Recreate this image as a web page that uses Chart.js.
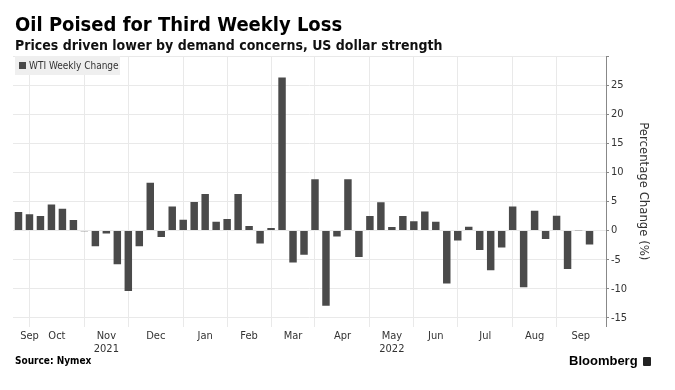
<!DOCTYPE html>
<html>
<head>
<meta charset="utf-8">
<script src="https://cdn.jsdelivr.net/npm/chart.js@4.4.0/dist/chart.umd.min.js"></script>
<style>
  body { margin: 0; background: #fff; }
  #wrap { position: relative; width: 675px; height: 390px; overflow: hidden; font-family: 'DejaVu Sans Condensed', 'DejaVu Sans', sans-serif; }
  #chart { position: absolute; left: 0; top: 0; }
  .title { position: absolute; left: 15px; top: 12px; font-weight: bold; font-size: 20px; color: #000; white-space: nowrap; }
  .subtitle { position: absolute; left: 15px; top: 37px; font-weight: bold; font-size: 14px; color: #111; white-space: nowrap; }
  .source { position: absolute; left: 15px; top: 355px; font-weight: bold; font-size: 10px; color: #000; }
  .brand { position: absolute; left: 569px; top: 353px; font-family: 'Liberation Sans', Arial, sans-serif; font-weight: bold; font-size: 13px; color: #000; }
  .brand span { display: inline-block; width: 8px; height: 9px; background: #222; border-radius: 1px; margin-left: 5px; vertical-align: -1px; }
</style>
</head>
<body>
<div id="wrap">
  <canvas id="chart" width="675" height="390"></canvas>
  <div class="title">Oil Poised for Third Weekly Loss</div>
  <div class="subtitle">Prices driven lower by demand concerns, US dollar strength</div>
  <div class="source">Source: Nymex</div>
  <div class="brand">Bloomberg<span></span></div>
</div>
<script>
// weekly closes, Friday dates (last slot is empty room before the axis)
const weekLabels = [
  '2021-09-17', '2021-09-24', '2021-10-01', '2021-10-08', '2021-10-15', '2021-10-22', '2021-10-29',
  '2021-11-05', '2021-11-12', '2021-11-19', '2021-11-26', '2021-12-03', '2021-12-10', '2021-12-17',
  '2021-12-24', '2021-12-31', '2022-01-07', '2022-01-14', '2022-01-21', '2022-01-28', '2022-02-04',
  '2022-02-11', '2022-02-18', '2022-02-25', '2022-03-04', '2022-03-11', '2022-03-18', '2022-03-25',
  '2022-04-01', '2022-04-08', '2022-04-15', '2022-04-22', '2022-04-29', '2022-05-06', '2022-05-13',
  '2022-05-20', '2022-05-27', '2022-06-03', '2022-06-10', '2022-06-17', '2022-06-24', '2022-07-01',
  '2022-07-08', '2022-07-15', '2022-07-22', '2022-07-29', '2022-08-05', '2022-08-12', '2022-08-19',
  '2022-08-26', '2022-09-02', '2022-09-09', '2022-09-16', '2022-09-23'
];

const wtiChange = [
  3.2, 2.8, 2.5, 4.5, 3.75, 1.8, -0.1,
  -2.7, -0.5, -5.8, -10.4, -2.7, 8.2, -1.1,
  4.15, 1.85, 4.9, 6.3, 1.5, 2.0, 6.3,
  0.8, -2.2, 0.46, 26.3, -5.5, -4.15, 8.8,
  -12.9, -1.0, 8.8, -4.55, 2.5, 4.85, 0.6,
  2.5, 1.6, 3.3, 1.5, -9.1, -1.7, 0.65,
  -3.35, -6.8, -2.9, 4.15, -9.75, 3.4, -1.45,
  2.55, -6.6, -0.05, -2.4, null
];

// month labels sit mid-month, gridlines on the last week of each month
const monthTickPos = [1, 3.5, 8, 12.5, 17, 21, 25, 29.5, 34, 38, 42.5, 47, 51.2];
const monthTickText = [['Sep'], ['Oct'], ['Nov', '2021'], ['Dec'], ['Jan'], ['Feb'], ['Mar'],
  ['Apr'], ['May', '2022'], ['Jun'], ['Jul'], ['Aug'], ['Sep']];
const monthEndIdx = [1, 6, 10, 15, 19, 23, 27, 32, 36, 40, 45, 49];

const yTicks = [-15, -10, -5, 0, 5, 10, 15, 20, 25, 30];
const yMin = -16.5, yMax = 30;

const FONT = "'DejaVu Sans Condensed', 'DejaVu Sans', sans-serif";
const BAR = '#4a4a4a';

const legendBox = {
  id: 'legendBox',
  afterDraw(chart) {
    const ctx = chart.ctx;
    ctx.save();
    ctx.fillStyle = '#efefef';
    ctx.fillRect(15, 56, 105, 19);
    ctx.fillStyle = BAR;
    ctx.fillRect(19, 62, 7, 7);
    ctx.fillStyle = '#333';
    ctx.font = '10px ' + FONT;
    ctx.textBaseline = 'middle';
    ctx.fillText(chart.data.datasets[0].label, 29, 66);
    ctx.restore();
  }
};

Chart.defaults.font.family = FONT;
Chart.defaults.color = '#333';

new Chart(document.getElementById('chart'), {
  type: 'bar',
  data: {
    labels: weekLabels,
    datasets: [{
      label: 'WTI Weekly Change',
      data: wtiChange,
      backgroundColor: BAR,
      borderWidth: 0,
      barPercentage: 0.68,
      categoryPercentage: 1.0,
      xAxisID: 'x',
      yAxisID: 'y'
    }]
  },
  options: {
    responsive: false,
    animation: false,
    layout: { padding: { top: 56, left: 13, right: 24, bottom: 31 } },
    plugins: {
      legend: { display: false },
      tooltip: { enabled: false }
    },
    scales: {
      x: { type: 'category', display: false },
      xm: {
        type: 'linear',
        position: 'bottom',
        offset: false,
        min: -0.5,
        max: weekLabels.length - 0.5,
        afterBuildTicks: (scale) => {
          const vals = [...new Set([...monthEndIdx, ...monthTickPos])].sort((a, b) => a - b);
          scale.ticks = vals.map(v => ({ value: v }));
        },
        ticks: {
          autoSkip: false,
          maxRotation: 0,
          padding: 3,
          font: { size: 11 },
          color: '#333',
          callback: (value) => {
            const i = monthTickPos.indexOf(value);
            return i >= 0 ? monthTickText[i] : '';
          }
        },
        grid: {
          offset: false,
          drawTicks: false,
          color: (ctx) => (ctx.tick && monthEndIdx.includes(ctx.tick.value)) ? '#e9e9e9' : 'rgba(0,0,0,0)',
          lineWidth: 1
        },
        border: { display: false }
      },
      y: {
        position: 'right',
        min: yMin,
        max: yMax,
        afterBuildTicks: (scale) => { scale.ticks = yTicks.map(v => ({ value: v })); },
        afterFit: (scale) => { scale.width = 45; },
        ticks: {
          padding: 2,
          font: { size: 11 },
          color: '#333',
          callback: (value) => value === 30 ? '' : String(value)
        },
        grid: {
          color: '#e9e9e9',
          tickColor: '#888',
          tickLength: 3
        },
        border: { display: true, color: '#888' },
        title: {
          display: true,
          text: 'Percentage Change (%)',
          font: { size: 13 },
          color: '#333',
          padding: { top: 0, bottom: 2 }
        }
      }
    }
  },
  plugins: [legendBox]
});
</script>
</body>
</html>
